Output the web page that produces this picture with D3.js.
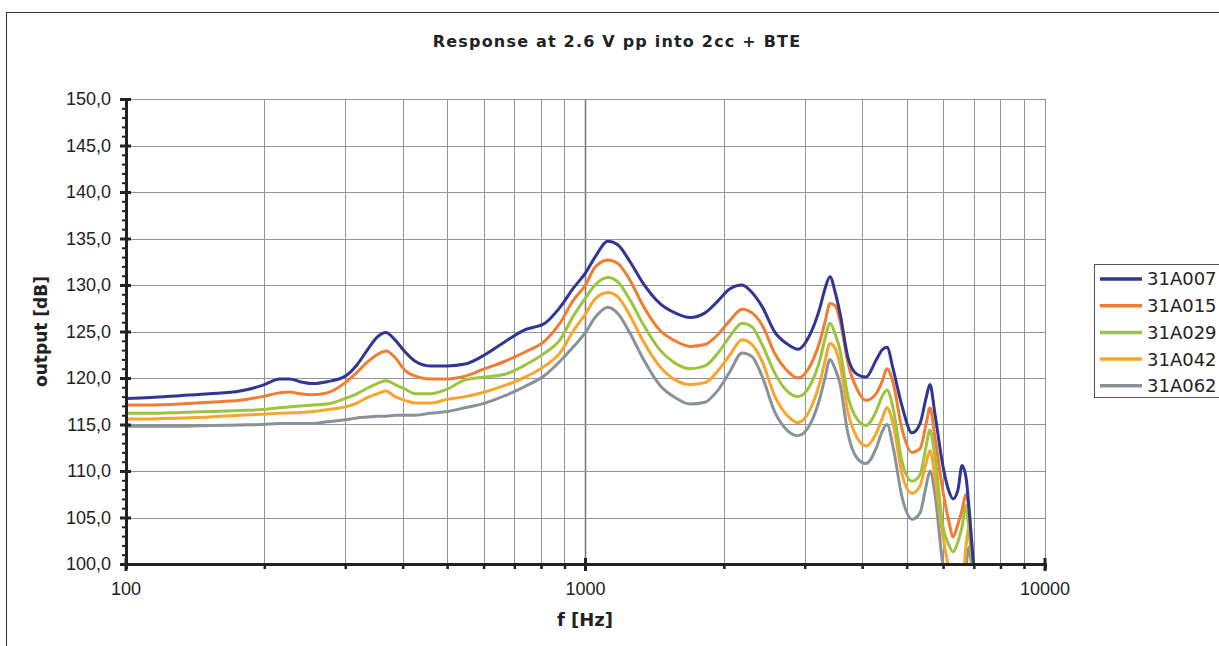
<!DOCTYPE html>
<html>
<head>
<meta charset="utf-8">
<script src="https://cdn.jsdelivr.net/npm/d3@7"></script>
<style>
    body { margin: 0; background: #fff; }
    svg { display: block; font-family: 'DejaVu Sans', Verdana, sans-serif; }
</style>
</head>
<body>
<div id="cnt"></div>
<script>
const titleText = 'Response at 2.6 V pp into 2cc + BTE'
const xLabel = 'f [Hz]'
const yLabel = 'output [dB]'

const seriesNames = ['31A007', '31A015', '31A029', '31A042', '31A062']
const seriesColors = ['#2f3694', '#f07d31', '#9cc43c', '#f9a52c', '#8a9299']

const freqs = [100, 113, 131, 152, 177, 198, 216, 227, 239, 255, 274, 300, 318, 335, 352, 368, 385, 405, 426, 459,
    500, 547, 604, 668, 739, 816, 880, 939, 1000, 1049, 1119, 1177, 1250, 1334, 1453, 1566, 1688, 1820, 1943, 2063,
    2191, 2303, 2422, 2584, 2758, 2900, 3081, 3239, 3320, 3405, 3491, 3579, 3726, 3898, 4077, 4288, 4419, 4531, 4670, 4884,
    5135, 5346, 5508, 5619, 5762, 5998, 6182, 6307, 6466, 6598, 6732, 6834, 6972, 7077]

const s31A007 = [117.8, 117.9, 118.1, 118.3, 118.6, 119.2, 119.9, 119.9, 119.6, 119.4, 119.6, 120.2, 121.4, 123.0, 124.4, 124.9, 124.1, 122.8, 121.8, 121.3,
    121.3, 121.5, 122.5, 123.9, 125.2, 125.9, 127.6, 129.6, 131.3, 133.0, 134.7, 134.3, 132.5, 130.2, 128.0, 127.0, 126.5, 127.0, 128.3, 129.6,
    130.0, 129.2, 127.7, 124.9, 123.6, 123.1, 124.7, 127.6, 129.6, 130.9, 129.3, 127.0, 122.2, 120.4, 120.1, 121.9, 123.0, 123.3, 121.0, 117.0,
    114.1, 115.1, 117.8, 119.3, 116.1, 110.5, 107.8, 107.0, 108.0, 110.6, 109.3, 106.0, 100.5, 97]
const s31A015 = [117.1, 117.1, 117.2, 117.4, 117.6, 118.0, 118.4, 118.5, 118.3, 118.2, 118.4, 119.5, 120.6, 121.7, 122.5, 122.9, 122.2, 120.8, 120.2, 119.9,
    119.9, 120.2, 121.0, 121.8, 122.8, 124.0, 125.9, 128.3, 130.0, 131.9, 132.7, 132.3, 130.5, 127.8, 125.1, 124.0, 123.4, 123.6, 124.7, 126.2,
    127.4, 127.0, 125.7, 122.6, 120.7, 120.0, 121.3, 124.0, 126.0, 128.0, 127.8, 126.2, 121.6, 118.8, 117.6, 118.3, 119.6, 121.0, 119.5, 114.5,
    112.0, 112.4, 115.0, 116.8, 113.6, 107.8, 104.5, 102.9, 104.3, 105.8, 107.5, 105.8, 100.5, 97]
const s31A029 = [116.2, 116.2, 116.3, 116.4, 116.5, 116.6, 116.8, 116.9, 117.0, 117.1, 117.2, 117.8, 118.3, 118.9, 119.4, 119.7, 119.3, 118.8, 118.3, 118.3,
    118.8, 119.8, 120.1, 120.4, 121.4, 122.7, 124.1, 126.6, 128.6, 130.0, 130.8, 130.3, 128.4, 125.8, 123.0, 121.6, 121.0, 121.3, 122.7, 124.5,
    125.9, 125.5, 123.6, 120.5, 118.5, 118.0, 119.2, 122.0, 124.2, 125.9, 124.8, 123.0, 118.0, 115.6, 114.9, 116.4, 118.0, 118.7, 116.8, 111.0,
    108.9, 109.6, 112.6, 114.4, 111.5, 104.0, 102.0, 101.3, 102.4, 104.0, 106.3, 103.5, 99, 96]
const s31A042 = [115.6, 115.6, 115.7, 115.8, 116.0, 116.1, 116.2, 116.25, 116.3, 116.4, 116.6, 116.9, 117.3, 117.9, 118.3, 118.6, 118.0, 117.6, 117.3, 117.3,
    117.7, 118.0, 118.5, 119.2, 120.1, 121.3, 122.7, 125.0, 126.9, 128.5, 129.2, 128.7, 126.7, 124.0, 121.2, 119.8, 119.3, 119.5, 120.8, 122.5,
    124.1, 123.6, 121.8, 118.0, 115.9, 115.2, 116.6, 119.6, 121.8, 123.7, 123.2, 121.5, 116.3, 113.6, 112.7, 114.0, 115.6, 116.8, 115.1, 109.7,
    107.6, 108.4, 110.8, 112.2, 109.3, 102.9, 99.5, 98, 97, 97.5, 102, 103.9, 98.5, 96]
const s31A062 = [114.8, 114.8, 114.8, 114.9, 114.95, 115.0, 115.1, 115.1, 115.1, 115.1, 115.3, 115.5, 115.7, 115.8, 115.9, 115.9, 116.0, 116.0, 116.0, 116.2,
    116.4, 116.8, 117.3, 118.1, 119.1, 120.3, 121.8, 123.3, 124.9, 126.5, 127.6, 126.9, 124.8, 122.1, 119.2, 117.9, 117.2, 117.4, 118.7, 120.7,
    122.7, 122.3, 120.2, 116.3, 114.3, 113.8, 115.0, 117.9, 120.0, 122.0, 121.0, 119.4, 114.0, 111.4, 110.8, 112.4, 114.2, 115.0, 112.6, 107.2,
    104.8, 105.5, 108.3, 110.0, 107.5, 99.8, 97, 96, 96, 97, 99.8, 101.8, 98, 96]
const seriesValues = [s31A007, s31A015, s31A029, s31A042, s31A062]

const yTicks = [100, 105, 110, 115, 120, 125, 130, 135, 140, 145, 150]
const xTicks = [100, 1000, 10000]

const width = 1219
const height = 646
const plot = { left: 126, right: 1045, top: 99, bottom: 564 }
const gridColor = '#8d949a'

const svg = d3.select('#cnt')
    .append('svg')
    .attr('width', width)
    .attr('height', height)

// outer chart frame, open to the right and bottom like the original crop
svg.append('rect')
    .attr('x', 6.5)
    .attr('y', 12.5)
    .attr('width', 1400)
    .attr('height', 800)
    .attr('fill', 'none')
    .attr('stroke', '#333')

const x = d3.scaleLog().domain([100, 10000]).range([plot.left, plot.right])
const y = d3.scaleLinear().domain([100, 150]).range([plot.bottom, plot.top])

const minorX = d3.range(1, 10).flatMap(m => [100 * m, 1000 * m]).filter(f => f > 100 && f < 10000 && f !== 1000)

// grid
const grid = svg.append('g')
grid.selectAll('.vgrid')
    .data(minorX.concat([1000, 10000]))
    .join('line')
    .attr('x1', d => Math.round(x(d)) + .5)
    .attr('x2', d => Math.round(x(d)) + .5)
    .attr('y1', plot.top)
    .attr('y2', plot.bottom)
    .attr('stroke', d => d === 1000 ? '#6f767c' : gridColor)
    .attr('stroke-width', d => d === 1000 ? 1.5 : 1)
grid.selectAll('.hgrid')
    .data(yTicks.slice(1))
    .join('line')
    .attr('x1', plot.left)
    .attr('x2', plot.right)
    .attr('y1', d => Math.round(y(d)) + .5)
    .attr('y2', d => Math.round(y(d)) + .5)
    .attr('stroke', gridColor)

// curves
svg.append('clipPath')
    .attr('id', 'clip')
    .append('rect')
    .attr('x', plot.left)
    .attr('y', plot.top)
    .attr('width', plot.right - plot.left)
    .attr('height', plot.bottom - plot.top)

const line = d3.line()
    .x((d, i) => x(freqs[i]))
    .y(d => y(d))
    .curve(d3.curveMonotoneX)

svg.append('g')
    .attr('clip-path', 'url(#clip)')
    .selectAll('path')
    .data(seriesValues.slice().reverse())
    .join('path')
    .attr('d', line)
    .attr('fill', 'none')
    .attr('stroke', (d, i) => seriesColors[seriesColors.length - 1 - i])
    .attr('stroke-width', 3)
    .attr('stroke-linejoin', 'round')

// y axis
const yAxis = svg.append('g').attr('transform', `translate(${plot.left},0)`)
yAxis.call(d3.axisLeft(y).tickValues(d3.range(100, 151, 1)).tickSize(4).tickFormat(''))
yAxis.selectAll('.tick line').attr('stroke', '#222').attr('stroke-width', 2)
yAxis.selectAll('.tick')
    .filter(d => d % 5 === 0)
    .select('line')
    .attr('x1', 5)
    .attr('x2', -6)
    .attr('stroke-width', 3)
yAxis.select('.domain').attr('stroke', '#222').attr('stroke-width', 3)
yAxis.selectAll('.ylab')
    .data(yTicks)
    .join('text')
    .attr('x', -15)
    .attr('y', d => y(d))
    .attr('dy', '0.36em')
    .attr('text-anchor', 'end')
    .attr('font-size', 18)
    .attr('fill', '#222')
    .text(d => d.toFixed(1).replace('.', ','))

// x axis
const xAxis = svg.append('g').attr('transform', `translate(0,${plot.bottom})`)
xAxis.call(d3.axisBottom(x).tickValues(minorX).tickSize(5).tickFormat(''))
xAxis.selectAll('.tick line').attr('stroke', '#222').attr('stroke-width', 2.5)
xAxis.select('.domain').attr('stroke', '#222').attr('stroke-width', 3)
xAxis.selectAll('.major')
    .data(xTicks)
    .join('line')
    .attr('x1', d => x(d))
    .attr('x2', d => x(d))
    .attr('y1', -6)
    .attr('y2', 7)
    .attr('stroke', '#222')
    .attr('stroke-width', 3)
xAxis.selectAll('.xlab')
    .data(xTicks)
    .join('text')
    .attr('x', d => x(d))
    .attr('y', 31)
    .attr('text-anchor', 'middle')
    .attr('font-size', 18)
    .attr('fill', '#222')
    .text(d => d)

// titles
svg.append('text')
    .attr('x', 617)
    .attr('y', 47)
    .attr('text-anchor', 'middle')
    .attr('font-size', 16)
    .attr('font-weight', 'bold')
    .attr('letter-spacing', 1.2)
    .attr('fill', '#222')
    .text(titleText)

svg.append('text')
    .attr('x', 585)
    .attr('y', 626)
    .attr('text-anchor', 'middle')
    .attr('font-size', 18)
    .attr('font-weight', 'bold')
    .attr('fill', '#222')
    .text(xLabel)

svg.append('text')
    .attr('transform', `translate(47,${(plot.top + plot.bottom) / 2}) rotate(-90)`)
    .attr('text-anchor', 'middle')
    .attr('font-size', 17)
    .attr('font-weight', 'bold')
    .attr('fill', '#222')
    .text(yLabel)

// legend
const legend = svg.append('g').attr('transform', 'translate(1094,264)')
legend.append('rect')
    .attr('x', .5)
    .attr('y', .5)
    .attr('width', 200)
    .attr('height', 133)
    .attr('fill', '#fff')
    .attr('stroke', '#555')

const rows = legend.selectAll('.row')
    .data(seriesNames)
    .join('g')
    .attr('transform', (d, i) => `translate(0,${15 + i * 26.7})`)
rows.append('line')
    .attr('x1', 6)
    .attr('x2', 48)
    .attr('stroke', (d, i) => seriesColors[i])
    .attr('stroke-width', 3.5)
rows.append('text')
    .attr('x', 53)
    .attr('dy', '0.36em')
    .attr('font-size', 18)
    .attr('fill', '#222')
    .text(d => d)
</script>
</body>
</html>
